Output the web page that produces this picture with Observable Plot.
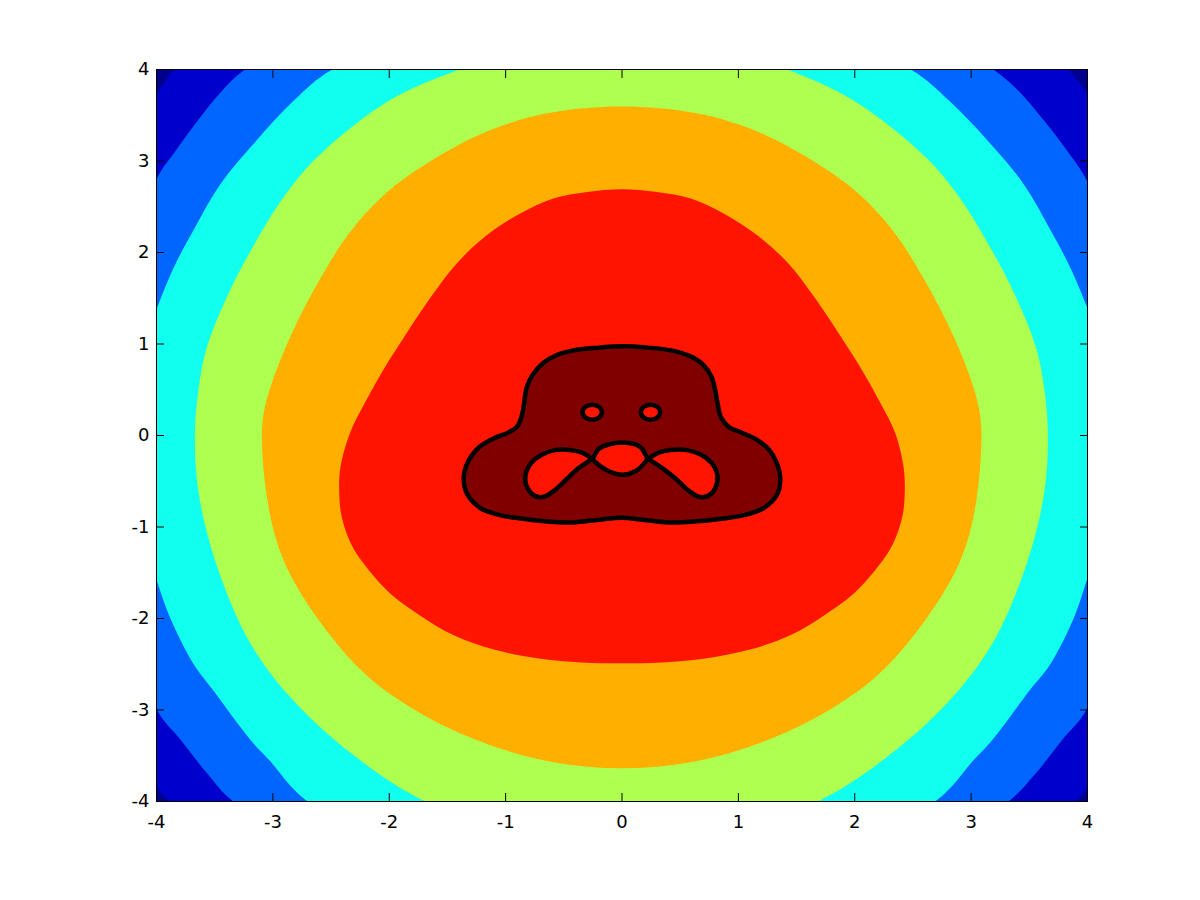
<!DOCTYPE html>
<html>
<head>
<meta charset="utf-8">
<script src="https://cdn.jsdelivr.net/npm/d3@7"></script>
<script src="https://cdn.jsdelivr.net/npm/@observablehq/plot@0.6"></script>
<style>
  body { margin: 0; background: #fff; }
  #chart svg text { font-size: 18px; font-family: "DejaVu Sans", "Liberation Sans", Arial, sans-serif; }
</style>
</head>
<body>
<div id="chart"></div>
<script>
const xTicks = [-4, -3, -2, -1, 0, 1, 2, 3, 4];
const yTicks = [-4, -3, -2, -1, 0, 1, 2, 3, 4];

// contourf bands, outside in (jet colormap)
const bandColors = ["#00008F", "#0000CC", "#0066FF", "#10FFEF", "#AFFF50", "#FFAF00", "#FF1400", "#800000"];

// contour outlines, [x, y]
// points past +-4 only close the shape outside the frame
const edge1 = [[0,5.3],[-2.5,4.9],[-3.84,4.0],[-3.93,3.86],[-4.0,3.72],[-4.5,2.0],[-4.6,0],[-4.5,-2.0],
  [-4.0,-3.82],[-3.95,-3.92],[-3.88,-4.0],[-2.5,-4.9],[0,-5.3],[2.5,-4.9],[3.9,-4.0],[3.95,-3.93],
  [4.0,-3.85],[4.5,-2.0],[4.6,0],[4.5,2.0],[4.0,3.74],[3.92,3.87],[3.83,4.0],[2.5,4.9]];

const edge2 = [[0,5.4],[-2.0,4.9],[-3.24,4.0],[-3.45,3.75],[-3.64,3.45],[-3.83,3.12],[-4.0,2.80],
  [-4.35,1.5],[-4.4,0],[-4.35,-1.6],[-4.0,-2.99],[-3.79,-3.33],[-3.56,-3.70],[-3.34,-4.0],[-2.0,-5.0],
  [0,-5.5],[2.0,-5.0],[3.32,-4.0],[3.55,-3.70],[3.78,-3.33],[4.0,-2.98],[4.35,-1.6],[4.4,0],[4.35,1.5],
  [4.0,2.77],[3.82,3.12],[3.62,3.45],[3.42,3.75],[3.19,4.0],[2.0,4.9]];

const edge3 = [[0,4.85],[-1.3,4.6],[-2.49,4.0],[-2.82,3.66],[-3.15,3.21],[-3.45,2.75],[-3.68,2.25],
  [-3.85,1.84],[-4.0,1.38],[-4.25,0.5],[-4.25,-0.6],[-4.0,-1.58],[-3.88,-2.0],[-3.68,-2.5],[-3.51,-2.79],
  [-3.19,-3.33],[-3.03,-3.55],[-2.70,-4.0],[-1.5,-4.7],[0,-4.95],[1.5,-4.7],[2.69,-4.0],[3.02,-3.55],
  [3.18,-3.33],[3.50,-2.79],[3.68,-2.5],[3.88,-2.0],[4.0,-1.56],[4.25,-0.6],[4.25,0.5],[4.0,1.39],
  [3.85,1.84],[3.68,2.25],[3.45,2.75],[3.15,3.21],[2.81,3.66],[2.48,4.0],[1.3,4.6]];

const edge4 = [[0,4.35],[-0.8,4.25],[-1.40,4.0],[-2.00,3.66],[-2.62,3.04],[-2.91,2.60],[-3.19,2.02],
  [-3.40,1.50],[-3.57,0.95],[-3.64,0.5],[-3.67,0],[-3.64,-0.61],[-3.49,-1.39],[-3.19,-2.28],[-2.80,-2.93],
  [-2.25,-3.55],[-1.69,-4.0],[-0.9,-4.35],[0,-4.45],[0.9,-4.35],[1.68,-4.0],[2.24,-3.55],[2.79,-2.93],
  [3.18,-2.28],[3.48,-1.39],[3.63,-0.61],[3.66,0],[3.63,0.5],[3.56,0.95],[3.39,1.50],[3.18,2.02],
  [2.90,2.60],[2.61,3.04],[1.99,3.66],[1.42,4.0],[0.8,4.25]];

const edge5 = [[0,3.62],[-0.65,3.55],[-1.25,3.31],[-1.82,2.87],[-2.10,2.58],[-2.33,2.25],[-2.51,1.91],
  [-2.83,1.18],[-3.07,0.4],[-3.11,0],[-3.06,-0.70],[-2.94,-1.37],[-2.63,-2.00],[-2.26,-2.58],
  [-1.91,-2.91],[-1.48,-3.23],[-0.75,-3.57],[0,-3.67],[0.75,-3.57],[1.48,-3.23],[1.91,-2.91],
  [2.26,-2.58],[2.63,-2.00],[2.94,-1.37],[3.06,-0.70],[3.10,0],[3.07,0.4],[2.83,1.18],[2.51,1.91],
  [2.33,2.25],[2.10,2.58],[1.82,2.87],[1.25,3.31],[0.65,3.55]];

const edge6 = [[0,2.69],[-0.30,2.66],[-0.59,2.59],[-0.87,2.43],[-1.16,2.19],[-1.42,1.88],[-1.65,1.50],
  [-1.85,1.12],[-2.04,0.74],[-2.20,0.38],[-2.34,0.02],[-2.42,-0.35],[-2.43,-0.60],[-2.41,-0.88],
  [-2.33,-1.18],[-2.22,-1.40],[-1.99,-1.73],[-1.72,-1.98],[-1.45,-2.18],[-1.10,-2.34],[-0.70,-2.44],
  [-0.35,-2.48],[0,-2.49],[0.35,-2.48],[0.70,-2.44],[1.10,-2.34],[1.45,-2.18],[1.72,-1.98],[1.99,-1.73],
  [2.22,-1.40],[2.33,-1.18],[2.41,-0.88],[2.43,-0.60],[2.42,-0.35],[2.35,0.02],[2.21,0.38],[2.05,0.74],
  [1.86,1.12],[1.66,1.50],[1.43,1.88],[1.16,2.19],[0.87,2.43],[0.59,2.59],[0.30,2.66]];

// the black level line
const edge7 = [[0,0.975],[0.22,0.96],[0.42,0.93],[0.58,0.87],[0.70,0.77],[0.77,0.64],[0.80,0.50],
  [0.82,0.36],[0.85,0.20],[0.92,0.09],[1.03,0.03],[1.15,-0.04],[1.26,-0.15],[1.33,-0.30],[1.36,-0.48],
  [1.33,-0.65],[1.22,-0.79],[1.05,-0.87],[0.85,-0.91],[0.62,-0.94],[0.40,-0.95],[0.18,-0.92],[0,-0.90],
  [-0.20,-0.92],[-0.42,-0.95],[-0.64,-0.94],[-0.85,-0.91],[-1.05,-0.87],[-1.22,-0.79],[-1.33,-0.64],
  [-1.36,-0.46],[-1.32,-0.28],[-1.23,-0.13],[-1.10,-0.03],[-0.98,0.03],[-0.90,0.10],[-0.86,0.22],
  [-0.84,0.36],[-0.82,0.52],[-0.77,0.66],[-0.68,0.79],[-0.56,0.88],[-0.40,0.935],[-0.20,0.96]];

const eyeLeft = [[-0.173,0.255],[-0.197,0.313],[-0.256,0.337],[-0.315,0.313],[-0.339,0.255],
  [-0.315,0.197],[-0.256,0.173],[-0.197,0.197]];
const eyeRight = [[0.328,0.255],[0.304,0.313],[0.245,0.337],[0.186,0.313],[0.162,0.255],
  [0.186,0.197],[0.245,0.173],[0.304,0.197]];

const mouth = [[0,-0.077],[0.116,-0.098],[0.17,-0.14],[0.205,-0.215],[0.225,-0.255],[0.26,-0.225],
  [0.33,-0.18],[0.45,-0.155],[0.56,-0.16],[0.68,-0.21],[0.77,-0.30],[0.82,-0.44],[0.80,-0.58],
  [0.74,-0.66],[0.66,-0.67],[0.56,-0.59],[0.46,-0.47],[0.36,-0.37],[0.26,-0.285],[0.225,-0.255],
  [0.20,-0.29],[0.13,-0.38],[0,-0.43],[-0.13,-0.38],[-0.23,-0.29],[-0.256,-0.255],[-0.29,-0.285],
  [-0.385,-0.37],[-0.47,-0.47],[-0.57,-0.59],[-0.67,-0.67],[-0.75,-0.66],[-0.81,-0.58],[-0.83,-0.44],
  [-0.78,-0.30],[-0.69,-0.21],[-0.58,-0.16],[-0.47,-0.155],[-0.36,-0.18],[-0.29,-0.225],[-0.256,-0.255],
  [-0.235,-0.215],[-0.20,-0.145],[-0.116,-0.098]];

const edges = [edge1, edge2, edge3, edge4, edge5, edge6, edge7];
const edgeCurves = ["catmull-rom-closed", "catmull-rom-closed", "catmull-rom-closed", "catmull-rom-closed",
  "basis-closed", "catmull-rom-closed", "catmull-rom-closed"];
const holes = [eyeLeft, eyeRight, mouth];

const px = d => d[0];
const py = d => d[1];

let chart = Plot.plot({
  width: 1200,
  height: 900,
  marginTop: 69,
  marginBottom: 99,
  marginLeft: 156,
  marginRight: 113,
  x: {domain: [-4, 4]},
  y: {domain: [-4, 4]},
  style: {color: "black", background: "white"},
  marks: [
    Plot.frame({fill: bandColors[0]}),
    ...edges.map((e, i) => Plot.line(e, {
      x: px, y: py, curve: edgeCurves[i],
      fill: bandColors[i + 1], stroke: "none", clip: true
    })),
    // the holes inside the dark red region
    ...holes.map(h => Plot.line(h, {
      x: px, y: py, curve: "catmull-rom-closed", fill: bandColors[6], stroke: "none"
    })),
    ...[edge7, ...holes].map(h => Plot.line(h, {
      x: px, y: py, curve: "catmull-rom-closed", stroke: "black", strokeWidth: 4.5
    })),
    Plot.frame({stroke: "black"}),
    Plot.axisX(xTicks, {anchor: "bottom", tickSize: -8, tickPadding: 22,
      tickFormat: d => String(d), label: null}),
    Plot.axisX(xTicks, {anchor: "top", tickSize: -8, tickFormat: () => "", label: null}),
    Plot.axisY(yTicks, {anchor: "left", tickSize: -8, tickPadding: 15,
      tickFormat: d => String(d), label: null}),
    Plot.axisY(yTicks, {anchor: "right", tickSize: -8, tickFormat: () => "", label: null})
  ]
});

d3.select("#chart").append(() => chart);
</script>
</body>
</html>
